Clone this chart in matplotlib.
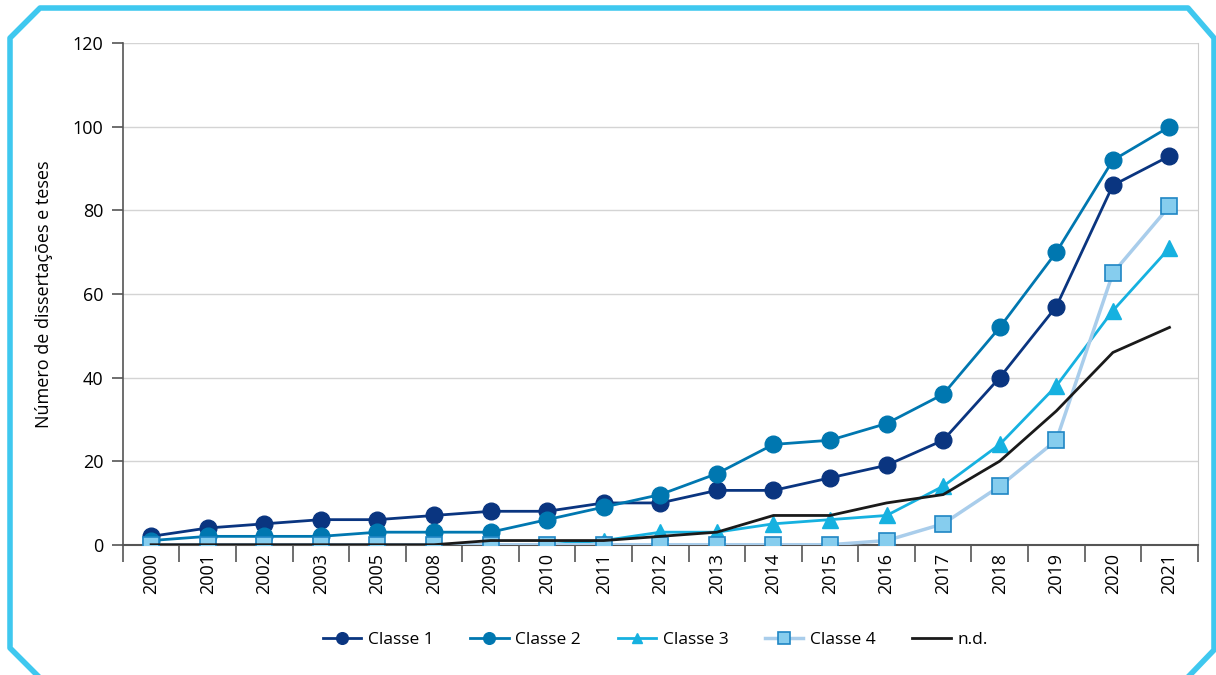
import matplotlib.pyplot as plt
from matplotlib.lines import Line2D
import numpy as np

plt.rcParams['font.family'] = ['Open Sans', 'DejaVu Sans']

anos = ['2000', '2001', '2002', '2003', '2005', '2008', '2009', '2010', '2011', '2012',
        '2013', '2014', '2015', '2016', '2017', '2018', '2019', '2020', '2021']
classe1 = [2, 4, 5, 6, 6, 7, 8, 8, 10, 10, 13, 13, 16, 19, 25, 40, 57, 86, 93]
classe2 = [1, 2, 2, 2, 3, 3, 3, 6, 9, 12, 17, 24, 25, 29, 36, 52, 70, 92, 100]
classe3 = [0, 0, 0, 0, 0, 0, 0, 0, 1, 3, 3, 5, 6, 7, 14, 24, 38, 56, 71]
classe4 = [0, 0, 0, 0, 0, 0, 0, 0, 0, 0, 0, 0, 0, 1, 5, 14, 25, 65, 81]
nd = [0, 0, 0, 0, 0, 0, 1, 1, 1, 2, 3, 7, 7, 10, 12, 20, 32, 46, 52]

fig = plt.figure(figsize=(12.16, 6.75), dpi=100)
ax = fig.add_axes([0.101, 0.193, 0.884, 0.743])

x = np.arange(len(anos))
ax.plot(x, classe1, color='#0a3580', lw=2, marker='o', ms=12,
        label='Classe 1', zorder=3)
ax.plot(x, classe2, color='#0077b0', lw=2, marker='o', ms=12,
        label='Classe 2', zorder=4)
ax.plot(x, classe3, color='#16b1e0', lw=2, marker='^', ms=11,
        label='Classe 3', zorder=5)
ax.plot(x, classe4, color='#a9cdeb', lw=2.5, marker='s', ms=12,
        mfc='#86cdee', mec='#1f86c4', mew=1.2, label='Classe 4', zorder=6)
ax.plot(x, nd, color='#1a1a1a', lw=2, label='n.d.', zorder=7)

ax.set_xlim(-0.5, len(anos) - 0.5)
ax.set_ylim(0, 120)
ax.set_yticks(range(0, 121, 20))
ax.set_xticks(x)
ax.set_xticklabels(anos, rotation=90, fontsize=13)
ax.set_xticks(np.arange(-0.5, len(anos), 1), minor=True)
ax.tick_params(axis='x', which='major', length=0, pad=6)
ax.tick_params(axis='x', which='minor', length=12, width=1.2, color='#555555')
ax.tick_params(axis='y', length=8, width=1.2, color='#555555', labelsize=13, pad=6)
ax.grid(axis='y', color='#d4d4d4', lw=1)
ax.set_axisbelow(True)
ax.spines['top'].set_visible(False)
ax.spines['right'].set_color('#cccccc')
ax.spines['left'].set_color('#555555')
ax.spines['left'].set_linewidth(1.2)
ax.spines['bottom'].set_color('#555555')
ax.spines['bottom'].set_linewidth(1.5)
ax.set_ylabel('Número de dissertações e teses', fontsize=13, labelpad=14)

leg = fig.legend(loc='center', bbox_to_anchor=(0.539, 0.052), ncol=5, frameon=False,
                 fontsize=12.5, handlelength=2.2, handletextpad=0.4,
                 columnspacing=2.1, markerscale=0.7)

# moldura
W, H = 1216, 675
pts = [(38, 676), (10, 648), (10, 38), (40, 8), (1188, 8), (1214, 38),
       (1214, 650), (1189, 676)]
fx = [p[0] / W for p in pts]
fy = [1 - p[1] / H for p in pts]
fig.add_artist(Line2D(fx, fy, color='#3fc8ef', lw=4, transform=fig.transFigure))

fig.savefig('out.png', dpi=100)
